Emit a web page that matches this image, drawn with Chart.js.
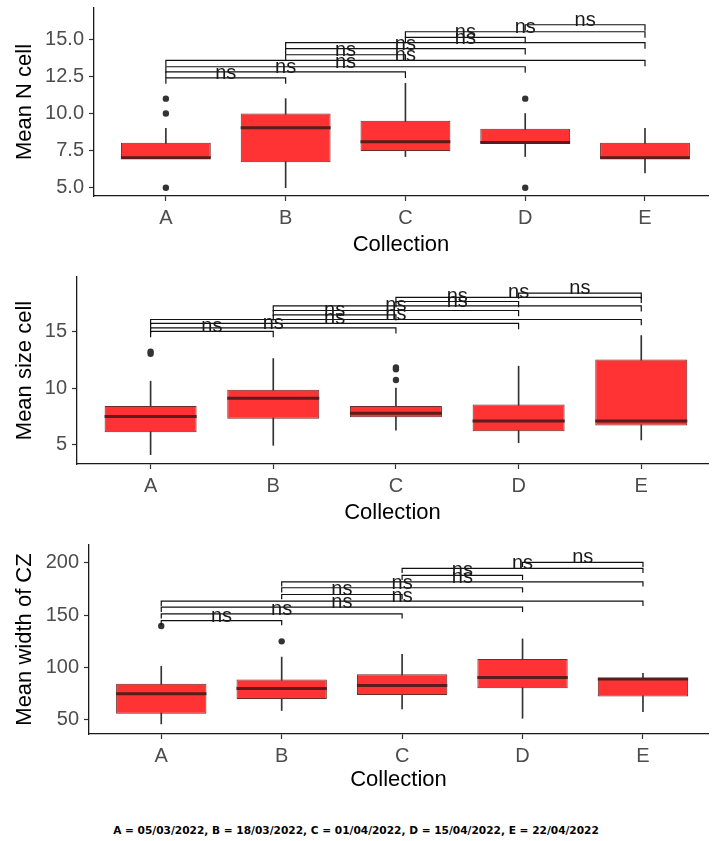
<!DOCTYPE html>
<html>
<head>
<meta charset="utf-8">
<script src="https://cdn.jsdelivr.net/npm/chart.js@4"></script>
<style>
  body { margin: 0; background: #fff; width: 712px; height: 841px; position: relative; overflow: hidden; }
  canvas { position: absolute; left: 0; }
  #note { position: absolute; left: 0; top: 824px; width: 712px; text-align: center;
          font: bold 10.6px "DejaVu Sans", sans-serif; color: #000; }
</style>
</head>
<body>
<canvas id="nCell" width="712" height="262" style="top:0px"></canvas>
<canvas id="sizeCell" width="712" height="262" style="top:268px"></canvas>
<canvas id="widthCZ" width="712" height="262" style="top:538px"></canvas>
<div id="note">A = 05/03/2022, B = 18/03/2022, C = 01/04/2022, D = 15/04/2022, E = 22/04/2022</div>
<script>
// Groups and pairwise comparisons (all non significant)
const groups = ['A', 'B', 'C', 'D', 'E'];
const pairs = [['A','B'], ['A','C'], ['A','D'], ['A','E'], ['B','C'], ['B','D'], ['B','E'], ['C','D'], ['C','E'], ['D','E']];
const pairLabels = ['ns', 'ns', 'ns', 'ns', 'ns', 'ns', 'ns', 'ns', 'ns', 'ns'];

// Mean N cell
const nLow = [7, 5, 7.1, 7.1, 6];
const nQ1 = [7, 6.72, 7.47, 8, 7];
const nMed = [7.02, 9.04, 8.1, 8.05, 7.02];
const nQ3 = [8.03, 10, 9.51, 8.98, 8.03];
const nHigh = [9, 11, 12.03, 10, 9];
const nOutliers = [[5, 10, 11], [], [], [5, 11], []];
const nBrackets = [12.4, 12.8, 13.15, 13.58, 13.96, 14.37, 14.77, 15.13, 15.51, 15.98];
const nTicks = [5, 7.5, 10, 12.5, 15];

// Mean size cell
const sLow = [4.15, 4.97, 6.29, 5.2, 5.44];
const sQ1 = [6.12, 7.31, 7.44, 6.2, 6.7];
const sMed = [7.49, 9.11, 7.79, 7.11, 7.11];
const sQ3 = [8.43, 9.84, 8.43, 8.55, 12.5];
const sHigh = [10.6, 12.59, 9.99, 11.92, 14.61];
const sOutliers = [[13.0, 13.2], [], [10.7, 11.65, 11.8], [], []];
const sBrackets = [14.97, 15.29, 15.67, 16.02, 16.43, 16.81, 17.22, 17.6, 17.96, 18.34];
const sTicks = [5, 10, 15];

// Mean width of CZ
const wLow = [46.2, 59, 60.6, 51.6, 58];
const wQ1 = [55.8, 70.1, 73.9, 80.3, 72.4];
const wMed = [74.9, 80, 82.9, 90.6, 89];
const wQ3 = [84.5, 88.7, 93.7, 108.1, 89.6];
const wHigh = [101.1, 110, 112.6, 127.3, 94.4];
const wOutliers = [[139.7], [125], [], [], []];
const wBrackets = [144.8, 151.2, 157.6, 163.3, 169.7, 176.1, 181.8, 187.9, 194.6, 200.3];
const wTicks = [50, 100, 150, 200];

const BOX_WIDTH = 0.75;
const FONT = '"Liberation Sans", Arial, sans-serif';

Chart.defaults.font.family = FONT;
Chart.defaults.color = '#4d4d4d';

// draws the "ns" text above each bracket
const sigLabelPlugin = {
    id: 'sigLabels',
    afterDatasetsDraw(chart, args, opts) {
        if (!opts.levels) return;
        const ctx = chart.ctx;
        const xs = chart.scales.x, ys = chart.scales.y;
        ctx.save();
        ctx.font = '20px ' + FONT;
        ctx.fillStyle = '#1a1a1a';
        ctx.textAlign = 'center';
        ctx.textBaseline = 'alphabetic';
        pairs.forEach((p, k) => {
            const mid = (groups.indexOf(p[0]) + groups.indexOf(p[1])) / 2 + 1;
            ctx.fillText(pairLabels[k], xs.getPixelForValue(mid), ys.getPixelForValue(opts.levels[k]) + 1);
        });
        ctx.restore();
    }
};

function makePanel(id, cfg) {
    const datasets = [];

    // significance brackets
    pairs.forEach((p, k) => {
        const i = groups.indexOf(p[0]) + 1;
        const j = groups.indexOf(p[1]) + 1;
        const lvl = cfg.brackets[k];
        datasets.push({
            type: 'line',
            data: [{x: i, y: lvl - cfg.tip}, {x: i, y: lvl}, {x: j, y: lvl}, {x: j, y: lvl - cfg.tip}],
            borderColor: '#111',
            borderWidth: 1.2,
            pointRadius: 0,
            fill: false,
            tension: 0,
            order: 1
        });
    });

    // outliers
    const outPts = [];
    cfg.outliers.forEach((arr, i) => arr.forEach(v => outPts.push({x: i + 1, y: v})));
    datasets.push({
        type: 'line',
        showLine: false,
        data: outPts,
        pointRadius: 3.2,
        pointBackgroundColor: '#333',
        pointBorderWidth: 0,
        order: 2
    });

    // medians
    datasets.push({
        type: 'line',
        showLine: false,
        data: groups.map((g, i) => ({x: i + 1, y: cfg.med[i]})),
        pointStyle: 'line',
        pointRadius: (c) => {
            const s = c.chart.scales.x;
            return s.getPixelForValue(1 + BOX_WIDTH / 2) - s.getPixelForValue(1);
        },
        pointBorderWidth: 3,
        pointBorderColor: '#5a1c1c',
        order: 3
    });

    // boxes
    datasets.push({
        type: 'bar',
        data: groups.map((g, i) => ({x: i + 1, y: [cfg.q1[i], cfg.q3[i]]})),
        backgroundColor: '#ff3333',
        borderColor: '#6e2c2c',
        borderWidth: 1,
        borderSkipped: false,
        barPercentage: BOX_WIDTH,
        categoryPercentage: 1,
        grouped: false,
        order: 4
    });

    // whiskers
    datasets.push({
        type: 'bar',
        data: groups.map((g, i) => ({x: i + 1, y: [cfg.low[i], cfg.high[i]]})),
        backgroundColor: '#333',
        barThickness: 1,
        grouped: false,
        order: 5
    });

    return new Chart(document.getElementById(id), {
        type: 'bar',
        data: { datasets: datasets },
        plugins: [sigLabelPlugin],
        options: {
            responsive: false,
            animation: false,
            devicePixelRatio: 1,
            layout: { padding: { top: cfg.padTop, right: 0, bottom: 0, left: 0 } },
            plugins: {
                legend: { display: false },
                tooltip: { enabled: false },
                sigLabels: { levels: cfg.brackets }
            },
            scales: {
                x: {
                    type: 'linear',
                    min: 0.4,
                    max: cfg.xMax,
                    offset: false,
                    afterBuildTicks: (s) => { s.ticks = groups.map((g, i) => ({value: i + 1})); },
                    afterFit: (s) => { s.height = 66; },
                    ticks: {
                        autoSkip: false,
                        maxRotation: 0,
                        padding: 5,
                        color: '#4d4d4d',
                        font: { size: 20 },
                        callback: (v) => groups[Math.round(v) - 1]
                    },
                    grid: { offset: false, drawOnChartArea: false, drawTicks: true, tickLength: 5, color: '#333', tickWidth: 1.2 },
                    border: { display: true, color: '#1a1a1a', width: 1.3 },
                    title: {
                        display: true,
                        text: 'Collection',
                        color: '#000',
                        font: { size: 22, lineHeight: 1 },
                        padding: { top: 0, bottom: cfg.titleBottom }
                    }
                },
                y: {
                    type: 'linear',
                    min: cfg.yMin,
                    max: cfg.yMax,
                    beginAtZero: false,
                    afterBuildTicks: (s) => { s.ticks = cfg.ticks.map(v => ({value: v})); },
                    afterFit: (s) => {
                        s.width = cfg.axisX;
                        // top tick is far from the edge, so no label padding is needed
                        s.paddingTop = 0;
                        s.paddingBottom = 0;
                    },
                    ticks: {
                        padding: 5,
                        color: '#4d4d4d',
                        font: { size: 20 },
                        callback: cfg.fmt
                    },
                    grid: { drawOnChartArea: false, drawTicks: true, tickLength: 5, color: '#333', tickWidth: 1.2 },
                    border: { display: true, color: '#1a1a1a', width: 1.3 },
                    title: {
                        display: true,
                        text: cfg.title,
                        color: '#000',
                        font: { size: 22, lineHeight: 1 },
                        padding: { top: 14, bottom: 0 }
                    }
                }
            }
        }
    });
}

makePanel('nCell', {
    low: nLow, q1: nQ1, med: nMed, q3: nQ3, high: nHigh, outliers: nOutliers,
    brackets: nBrackets, ticks: nTicks, tip: 0.4,
    yMin: 4.44, yMax: 17.11, xMax: 5.526, axisX: 94, padTop: 8, titleBottom: 6,
    title: 'Mean N cell', fmt: (v) => v.toFixed(1)
});

makePanel('sizeCell', {
    low: sLow, q1: sQ1, med: sMed, q3: sQ3, high: sHigh, outliers: sOutliers,
    brackets: sBrackets, ticks: sTicks, tip: 0.5,
    yMin: 3.33, yMax: 19.75, xMax: 5.544, axisX: 77, padTop: 9, titleBottom: 6,
    title: 'Mean size cell', fmt: (v) => String(v)
});

makePanel('widthCZ', {
    low: wLow, q1: wQ1, med: wMed, q3: wQ3, high: wHigh, outliers: wOutliers,
    brackets: wBrackets, ticks: wTicks, tip: 4.5,
    yMin: 36.6, yMax: 216.9, xMax: 5.54, axisX: 89, padTop: 7, titleBottom: 9,
    title: 'Mean width of CZ', fmt: (v) => String(v)
});
</script>
</body>
</html>
